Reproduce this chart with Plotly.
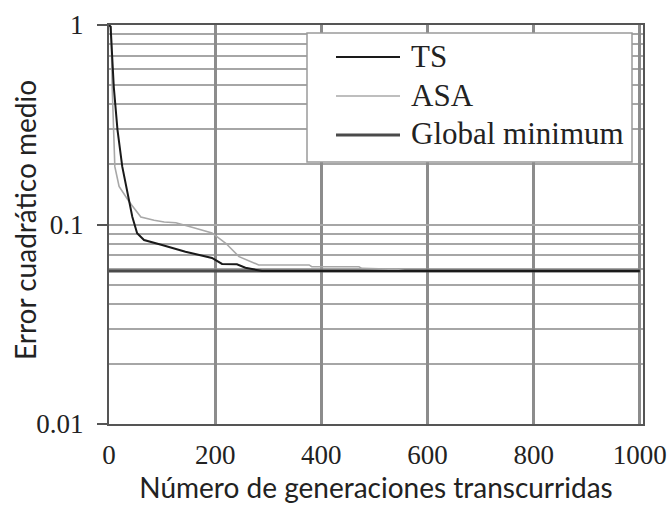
import plotly.graph_objects as go

# ---- data ----
ts_x = [0, 3, 9, 16, 25, 35, 44, 53, 66, 100, 144, 194, 213, 241, 257, 288, 1000]
ts_y = [1.0, 0.98, 0.49, 0.298, 0.195, 0.143, 0.109, 0.0903, 0.0836, 0.0789, 0.073,
        0.068, 0.0634, 0.0632, 0.0607, 0.0585, 0.0585]

asa_x = [0, 4, 6, 8, 11, 19, 38, 60, 85, 104, 126, 163, 194, 220, 245, 282, 377,
         382, 471, 476, 540, 560, 1000]
asa_y = [1.0, 0.98, 0.49, 0.298, 0.195, 0.155, 0.130, 0.109, 0.105, 0.103, 0.102,
         0.0957, 0.0907, 0.0805, 0.069, 0.0627, 0.0627, 0.0614, 0.0614, 0.0603,
         0.0596, 0.0585, 0.0585]

gm_x = [0, 1000]
gm_y = [0.0585, 0.0585]

x_ticks = [0, 200, 400, 600, 800, 1000]
y_ticks = [0.01, 0.1, 1]
y_ticktext = ["0.01", "0.1", "1"]
y_minor = [0.02, 0.03, 0.04, 0.05, 0.06, 0.07, 0.08, 0.09,
           0.2, 0.3, 0.4, 0.5, 0.6, 0.7, 0.8, 0.9]

x_title = "Número de generaciones transcurridas"
y_title = "Error cuadrático medio"

legend_names = ["TS", "ASA", "Global minimum"]
legend_colors = ["#1a1a1a", "#a8a8a8", "#4a4a4a"]
legend_widths = [2, 1.6, 3]

# ---- figure ----
W, H = 671, 508
ML, MR, MT, MB = 109, 28, 25, 84
PW, PH = W - ML - MR, H - MT - MB

fig = go.Figure()
fig.add_trace(go.Scatter(x=gm_x, y=gm_y, mode="lines", name="Global minimum",
                         line=dict(color=legend_colors[2], width=legend_widths[2]),
                         showlegend=False))
fig.add_trace(go.Scatter(x=asa_x, y=asa_y, mode="lines", name="ASA",
                         line=dict(color=legend_colors[1], width=legend_widths[1]),
                         showlegend=False))
fig.add_trace(go.Scatter(x=ts_x, y=ts_y, mode="lines", name="TS",
                         line=dict(color=legend_colors[0], width=legend_widths[0]),
                         showlegend=False))

tick_font = dict(family="Liberation Serif", size=27, color="#222222")
title_font = dict(family="Lato", size=28, color="#222222")

fig.update_layout(
    width=W, height=H,
    margin=dict(l=ML, r=MR, t=MT, b=MB, pad=0, autoexpand=False),
    paper_bgcolor="white", plot_bgcolor="white",
    showlegend=False,
    xaxis=dict(
        range=[0, 1006], tickvals=x_ticks, ticks="", tickfont=tick_font,
        showgrid=True, gridcolor="#8c8c8c", gridwidth=2.5,
        showline=True, mirror=True, linecolor="#555555", linewidth=2,
        zeroline=False, ticklabelstandoff=6, automargin=False,
        title=dict(text=x_title, font=title_font, standoff=8),
    ),
    yaxis=dict(
        type="log", range=[-2, 0], tickvals=y_ticks, ticktext=y_ticktext,
        ticks="outside", ticklen=10, tickwidth=2, tickcolor="#555555",
        tickfont=tick_font, ticklabelstandoff=8, automargin=False,
        showgrid=True, gridcolor="#a6a6a6", gridwidth=1.8,
        minor=dict(tickvals=y_minor, ticks="", showgrid=True,
                   gridcolor="#a6a6a6", gridwidth=1.8),
        showline=True, mirror=True, linecolor="#555555", linewidth=2,
        zeroline=False,
    ),
)

def px_to_paper(px, py):
    return (px - ML) / PW, 1 - (py - MT) / PH

# y-axis title as rotated text
yt_x, yt_y = px_to_paper(25, 220)
fig.add_annotation(xref="paper", yref="paper", x=yt_x, y=yt_y, text=y_title,
                   textangle=-90, showarrow=False, xanchor="center", yanchor="middle",
                   font=title_font)

# ---- custom legend box (drawn on top of the grid) ----
bx0, by0 = px_to_paper(307, 33)
bx1, by1 = px_to_paper(632, 162)
fig.add_shape(type="rect", xref="paper", yref="paper", x0=bx0, y0=by1, x1=bx1, y1=by0,
              fillcolor="white", line=dict(color="#9a9a9a", width=1.5), layer="above")

row_y = [57, 96, 135]
for name, col, wd, ry in zip(legend_names, legend_colors, legend_widths, row_y):
    lx0, ly = px_to_paper(336, ry)
    lx1, _ = px_to_paper(400, ry)
    fig.add_shape(type="line", xref="paper", yref="paper", x0=lx0, x1=lx1, y0=ly, y1=ly,
                  line=dict(color=col, width=wd), layer="above")
    tx, ty = px_to_paper(409, ry - 1)
    fig.add_annotation(xref="paper", yref="paper", x=tx, y=ty, text=name,
                       showarrow=False, xanchor="left", yanchor="middle",
                       font=dict(family="Liberation Serif", size=31, color="#222222"))

fig.write_html("out.html")
